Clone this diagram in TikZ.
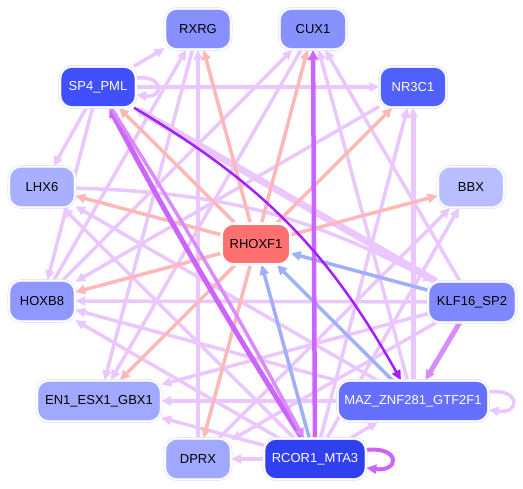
\documentclass[tikz,border=0pt]{standalone}
\usepackage{fontspec}
\setmainfont{Liberation Sans}
\usetikzlibrary{arrows.meta}
\definecolor{halo}{RGB}{214,218,255}
\definecolor{lav}{RGB}{234,200,255}
\definecolor{salmon}{RGB}{255,184,184}
\definecolor{pale}{RGB}{160,174,255}
\definecolor{violet}{RGB}{204,100,255}
\definecolor{grape}{RGB}{165,30,255}
\definecolor{orchid}{RGB}{218,140,255}
\definecolor{cRXRG}{RGB}{136,144,255}
\definecolor{cCUX}{RGB}{136,146,255}
\definecolor{cSP}{RGB}{64,80,255}
\definecolor{cNR}{RGB}{80,96,255}
\definecolor{cLHX}{RGB}{168,176,255}
\definecolor{cBBX}{RGB}{184,190,255}
\definecolor{cRHOX}{RGB}{255,112,112}
\definecolor{cHOXB}{RGB}{144,152,255}
\definecolor{cKLF}{RGB}{128,136,255}
\definecolor{cENG}{RGB}{160,168,255}
\definecolor{cMAZ}{RGB}{102,112,255}
\definecolor{cDPRX}{RGB}{160,168,255}
\definecolor{cRCOR}{RGB}{48,64,240}
\pgfdeclarelayer{canvasbg}
\pgfdeclarelayer{links}
\pgfsetlayers{canvasbg,links,main}
\tikzset{
  tf/.style={rounded corners=12pt, minimum width=66pt, minimum height=41pt, inner sep=2pt,
    draw=halo, line width=0.5pt, double=white, double distance=1.6pt,
    font=\fontsize{13}{15}\selectfont},
  tfw/.style={tf, text=white},
  link/.style={draw=lav, line width=3.5pt, -{Triangle[length=10pt,width=9pt]}},
  fromrhox/.style={link, draw=salmon},
  torhox/.style={link, draw=pale},
  strong/.style={link, draw=violet}
}

\begin{document}
\begin{tikzpicture}[x=1pt,y=-1pt]
  \begin{pgfonlayer}{canvasbg}
    \fill[white] (0,0) rectangle (523,489);
  \end{pgfonlayer}
  \useasboundingbox (0,0) rectangle (523,489);

  \node[tf, fill=cRXRG] (rxrg) at (198,29) {RXRG};
  \node[tf, fill=cCUX, minimum width=67pt] (cux) at (313,29) {CUX1};
  \node[tfw, fill=cSP, minimum width=76pt] (sp) at (98,87) {SP4\_PML};
  \node[tfw, fill=cNR, minimum width=67pt] (nr) at (413,87) {NR3C1};
  \node[tf, fill=cLHX] (lhx) at (42,187) {LHX6};
  \node[tf, fill=cBBX] (bbx) at (471,187) {BBX};
  \node[tf, fill=cRHOX, draw=white, minimum width=69pt] (rhox) at (256,244) {RHOXF1};
  \node[tf, fill=cHOXB] (hoxb) at (42,301) {HOXB8};
  \node[tf, fill=cKLF, minimum width=88pt] (klf) at (472,302) {KLF16\_SP2};
  \node[tf, fill=cENG, minimum width=124pt] (engbx) at (99,401) {EN1\_ESX1\_GBX1};
  \node[tfw, fill=cMAZ, minimum width=151pt] (maz) at (413,401) {MAZ\_ZNF281\_GTF2F1};
  \node[tf, fill=cDPRX] (dprx) at (198,459) {DPRX};
  \node[tfw, fill=cRCOR, minimum width=102pt] (rcor) at (315,459) {RCOR1\_MTA3};

  \begin{pgfonlayer}{links}
    % light regulatory links
    \foreach \s/\t in {sp/rxrg, hoxb/rxrg, dprx/rxrg, hoxb/cux, maz/cux, klf/cux,
        sp/nr, rcor/nr, nr/hoxb, sp/hoxb, sp/lhx, rcor/lhx, maz/lhx,
        klf/hoxb, maz/hoxb, rcor/hoxb, klf/engbx, maz/engbx, rcor/engbx,
        rxrg/engbx, cux/engbx, klf/dprx, rcor/dprx, rcor/bbx, dprx/bbx, rcor/maz}
      \draw[link] (\s) -- (\t);
    \draw[link] (lhx) to[bend left=13] (klf);
    \draw[link, line width=7pt] (klf) -- (sp);
    \draw[link, line width=5pt] (maz) -- (nr);
    \draw[link] ([yshift=9pt]sp.east) .. controls +(28,-3) and +(28,3) .. ([yshift=-8pt]sp.east);
    \draw[link] ([yshift=9pt]maz.east) .. controls +(32,-4) and +(32,4) .. ([yshift=-9pt]maz.east);
    % RHOXF1
    \foreach \t in {rxrg, cux, nr, sp, lhx, bbx, hoxb, engbx, dprx}
      \draw[fromrhox] (rhox) -- (\t);
    \foreach \s in {klf, maz, rcor}
      \draw[torhox] (\s) -- (rhox);
    % strong links
    \draw[strong, line width=4.5pt] (rcor) -- (cux);
    \draw[strong, line width=5pt] (rcor) to[bend left=2] (sp);
    \draw[strong, draw=orchid, line width=3.5pt] (sp) to[bend left=2] (rcor);
    \draw[strong, draw=orchid, line width=5pt] (klf) -- (maz);
    \draw[strong, draw=grape, line width=2.5pt] (sp) to[bend left=15] (maz);
    \draw[strong, line width=4pt] ([yshift=9pt]rcor.east) .. controls +(34,-4) and +(34,4) .. ([yshift=-9pt]rcor.east);
  \end{pgfonlayer}
\end{tikzpicture}
\end{document}
